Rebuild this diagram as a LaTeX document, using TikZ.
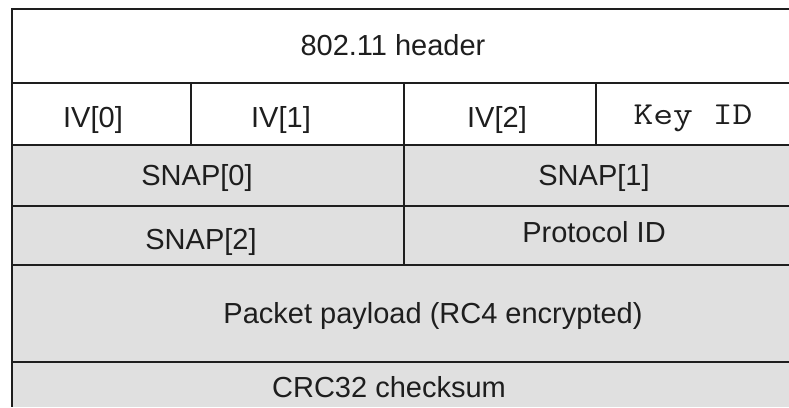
\documentclass[tikz,border=0pt]{standalone}
\usepackage{fontspec}
\setmainfont{Liberation Sans}
\definecolor{cellgray}{HTML}{E0E0E0}
\definecolor{ink}{HTML}{1E1E1E}
\begin{document}
\begin{tikzpicture}[x=1pt,y=-1pt,
  rule/.style={draw=ink,line width=2pt},
  lbl/.style={anchor=base,inner sep=0pt,text=ink,font=\fontsize{29}{32}\selectfont},
  monolbl/.style={anchor=base,inner sep=0pt,text=ink,font=\ttfamily\fontsize{32}{36}\selectfont}]
\useasboundingbox (0,0) rectangle (789,407);
\fill[white] (0,0) rectangle (789,407);
\fill[cellgray] (12,145) rectangle (789,407);
% horizontal rules
\draw[rule] (12,9) -- (789,9);
\draw[rule] (12,83) -- (789,83);
\draw[rule] (12,145) -- (789,145);
\draw[rule] (12,206) -- (789,206);
\draw[rule] (12,265) -- (789,265);
\draw[rule] (12,362) -- (789,362);
% vertical rules
\draw[rule] (12,8) -- (12,407);
\draw[rule] (191,83) -- (191,145);
\draw[rule] (404,83) -- (404,265);
\draw[rule] (596,83) -- (596,145);
% labels
\node[lbl] (hdr) at (393,55) {802.11 header};
\node[lbl] (iv0) at (93,127) {IV[0]};
\node[lbl] (iv1) at (281,127) {IV[1]};
\node[lbl] (iv2) at (497,127) {IV[2]};
\node[monolbl] (kid) at (693,124) {\scalebox{1.2}[1]{Key ID}};
\node[lbl] (s0) at (197,185) {SNAP[0]};
\node[lbl] (s1) at (594,185) {SNAP[1]};
\node[lbl] (s2) at (201,249) {SNAP[2]};
\node[lbl] (pid) at (594,242) {Protocol ID};
\node[lbl] (pay) at (433,323) {Packet payload (RC4 encrypted)};
\node[lbl] (crc) at (389,397) {CRC32 checksum};
\end{tikzpicture}
\end{document}
